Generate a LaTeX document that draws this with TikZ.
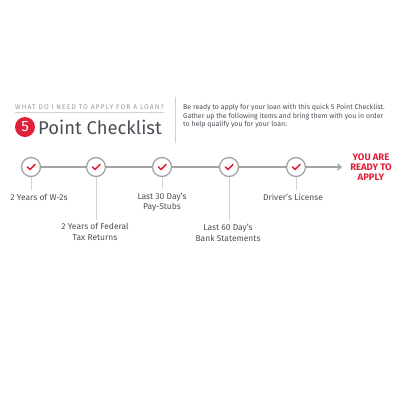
\documentclass[tikz,border=0pt]{standalone}
\usepackage{fontspec}
\setmainfont{Fira Sans}
\usetikzlibrary{arrows.meta,positioning}
\definecolor{loanred}{HTML}{E2203A}
\definecolor{inkgray}{HTML}{4A4F55}
\definecolor{ringgray}{HTML}{A3A3A3}
\definecolor{dropgray}{HTML}{D2D2D2}
\definecolor{capgray}{HTML}{999999}

\begin{document}
\begin{tikzpicture}[x=1bp,y=-1bp,>={Straight Barb[length=3.5bp,width=6bp]},
  ring/.style={circle,draw=ringgray,line width=1.3bp,fill=white,minimum size=19bp,inner sep=0pt},
  tick/.style={loanred,line width=1.6bp,line cap=round,line join=round},
  item/.style={text=inkgray,align=center,inner sep=0pt,font=\fontsize{8.5}{10.5}\selectfont},
  drop/.style={dropgray,line width=0.8bp,shorten >=3.5bp}]
\useasboundingbox[fill=white] (0,0) rectangle (400,400);
% header
\node[anchor=west,inner sep=0pt,text=capgray,font=\fontsize{6.8}{7}\selectfont\addfontfeature{LetterSpace=16}] (ask) at (15,107) {WHAT DO I NEED TO APPLY FOR A LOAN?};
\draw[dropgray,line width=0.4bp] (ask.south west)++(0,3) coordinate (u1) -- (u1 -| ask.east);
\node[circle,fill=loanred,text=white,minimum size=20bp,inner sep=0pt,font=\fontsize{15}{15}\selectfont] (five) at (25,127) {5};
\node[anchor=west,inner sep=0pt,text=inkgray,font=\fontsize{18.5}{20}\selectfont] (title) at (38,127) {Point Checklist};
\draw[dropgray,line width=0.6bp] (175,97) coordinate (s1) -- (175,143) coordinate (s2);
\node[anchor=north west,inner sep=0pt,text=inkgray,align=left,font=\fontsize{7}{8.4}\selectfont] (intro) at (183,104)
  {Be ready to apply for your loan with this quick 5 Point Checklist.\\
   Gather up the following items and bring them with you in order\\
   to help qualify you for your loan:};
% timeline
\foreach \i/\x in {1/31,2/96,3/162,4/229,5/296}
  \node[ring] (c\i) at (\x,167) {};
\foreach \i/\j in {1/2,2/3,3/4,4/5}
  \draw[ringgray,line width=1.3bp] (c\i) -- (c\j);
\foreach \i in {1,...,5}
  \draw[tick] ([shift={(-3.5,0)}]c\i.center) -- ++(2.5,2.5) -- ++(5,-5);
\node[text=loanred,align=center,inner sep=0pt,font=\bfseries\fontsize{9.5}{10}\selectfont] (ready) at (371,167) {YOU ARE\\READY TO\\APPLY};
\draw[->,ringgray,line width=1.3bp] (c5) -- (342,167) coordinate (tip);
% labels
\node[item] (l1) at (39,197) {2 Years of W-2s};
\node[item] (l2) at (95,232) {2 Years of Federal\\Tax Returns};
\node[item] (l3) at (162,202) {Last 30 Day's\\Pay-Stubs};
\node[item] (l4) at (228,233) {Last 60 Day's\\Bank Statements};
\node[item] (l5) at (293,197) {Driver's License};
\foreach \i in {1,...,5}
  \draw[drop] (c\i.south) -- (c\i.south |- l\i.north);
\end{tikzpicture}
\end{document}
